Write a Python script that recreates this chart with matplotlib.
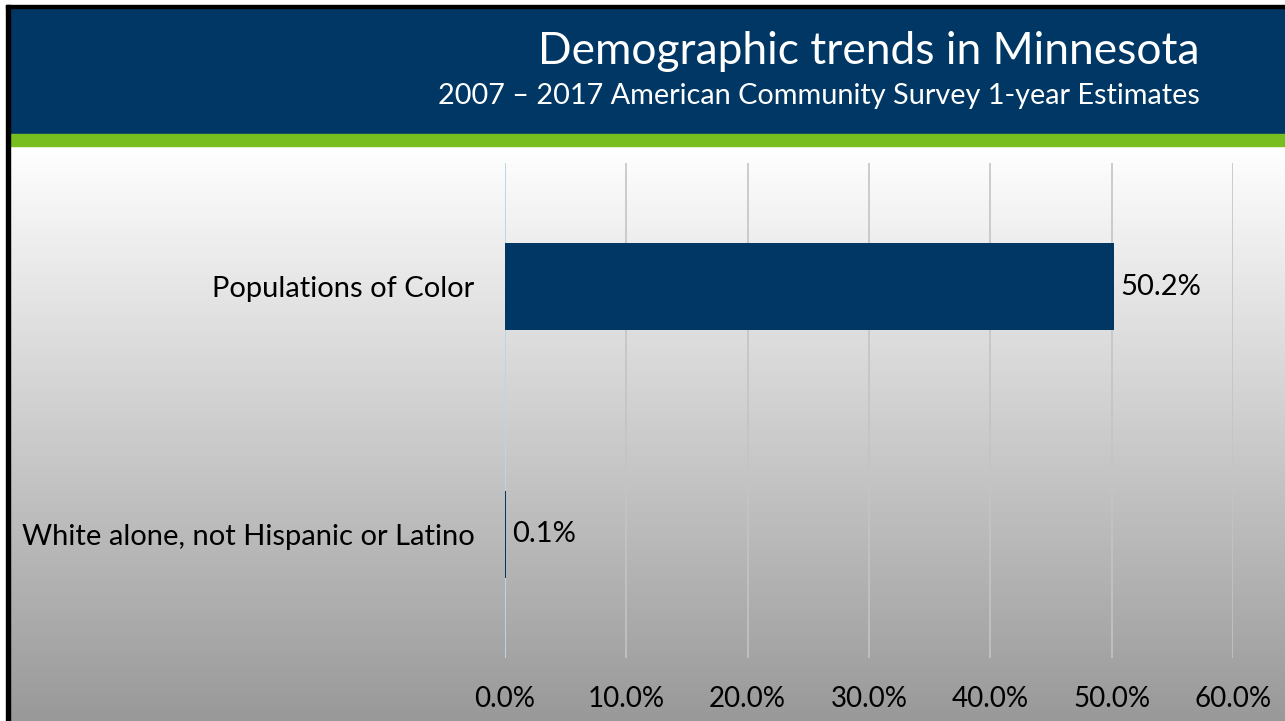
import numpy as np
import matplotlib
matplotlib.use("Agg")
import matplotlib.pyplot as plt
from matplotlib.patches import Rectangle

categories = ["White alone, not Hispanic or Latino", "Populations of Color"]
values = [0.1, 50.2]
tick_values = [0, 10, 20, 30, 40, 50, 60]
tick_labels = ["0.0%", "10.0%", "20.0%", "30.0%", "40.0%", "50.0%", "60.0%"]
title = "Demographic trends in Minnesota"
subtitle = "2007 \u2013 2017 American Community Survey 1-year Estimates"

W, H = 1285, 721
plt.rcParams['font.family'] = ['Lato', 'DejaVu Sans']

fig = plt.figure(figsize=(W / 100, H / 100), dpi=100)
fig.patch.set_facecolor("white")

# background layer in pixel coordinates
bg = fig.add_axes([0, 0, 1, 1])
bg.set_xlim(0, W)
bg.set_ylim(H, 0)
bg.axis("off")
grad = np.linspace(1.0, 0.0, 256).reshape(-1, 1)
top_c = np.array([1.0, 1.0, 1.0])
bot_c = np.array([0.60, 0.60, 0.60])
img = bot_c + (top_c - bot_c) * grad[..., None]
img = img.reshape(256, 1, 3)
bg.imshow(img, extent=[8, W, H, 146], aspect="auto", zorder=0)
bg.add_patch(Rectangle((8, 7), W - 8, 127, color="#003764", zorder=1))
bg.add_patch(Rectangle((8, 134), W - 8, 12, color="#78BE20", zorder=1))
bg.add_patch(Rectangle((6, 5), W - 6, 2.5, color="black", zorder=2))
bg.add_patch(Rectangle((6, 5), 3.5, H - 5, color="black", zorder=2))
bg.text(1200, 51, title, color="white", fontsize=31.9, ha="right", va="center", zorder=3)
bg.text(1200, 96, subtitle, color="white", fontsize=20.8, ha="right", va="center", zorder=3)

# main chart axes
x0, x1 = 505, 1233
y0, y1 = 163, 658
ax = fig.add_axes([x0 / W, (H - y1) / H, (x1 - x0) / W, (y1 - y0) / H])
ax.patch.set_alpha(0)
ypos = np.arange(len(categories))
bars = ax.barh(ypos, values, height=0.35, color="#003764", zorder=3)
ax.set_xlim(0, 60)
ax.set_ylim(-0.5, 1.5)
ax.set_xticks(tick_values)
ax.set_xticklabels(tick_labels)
ax.set_yticks(ypos)
ax.set_yticklabels(categories)
ax.tick_params(axis="x", length=0, labelsize=20, colors="black", pad=20)
ax.tick_params(axis="y", length=0, labelsize=21, colors="black", pad=22)
ax.grid(axis="x", color="#c4c4c4", linewidth=1.2, zorder=0)
ax.set_axisbelow(True)
for s in ax.spines.values():
    s.set_visible(False)
ax.axvline(0, color="#bdd7ee", linewidth=1.2, zorder=2)
for b, v in zip(bars, values):
    ax.text(v + 0.5, b.get_y() + b.get_height() / 2, f"{v:.1f}%", va="center", ha="left",
            fontsize=21, color="black", zorder=4)

fig.savefig("out.png", dpi=100)
